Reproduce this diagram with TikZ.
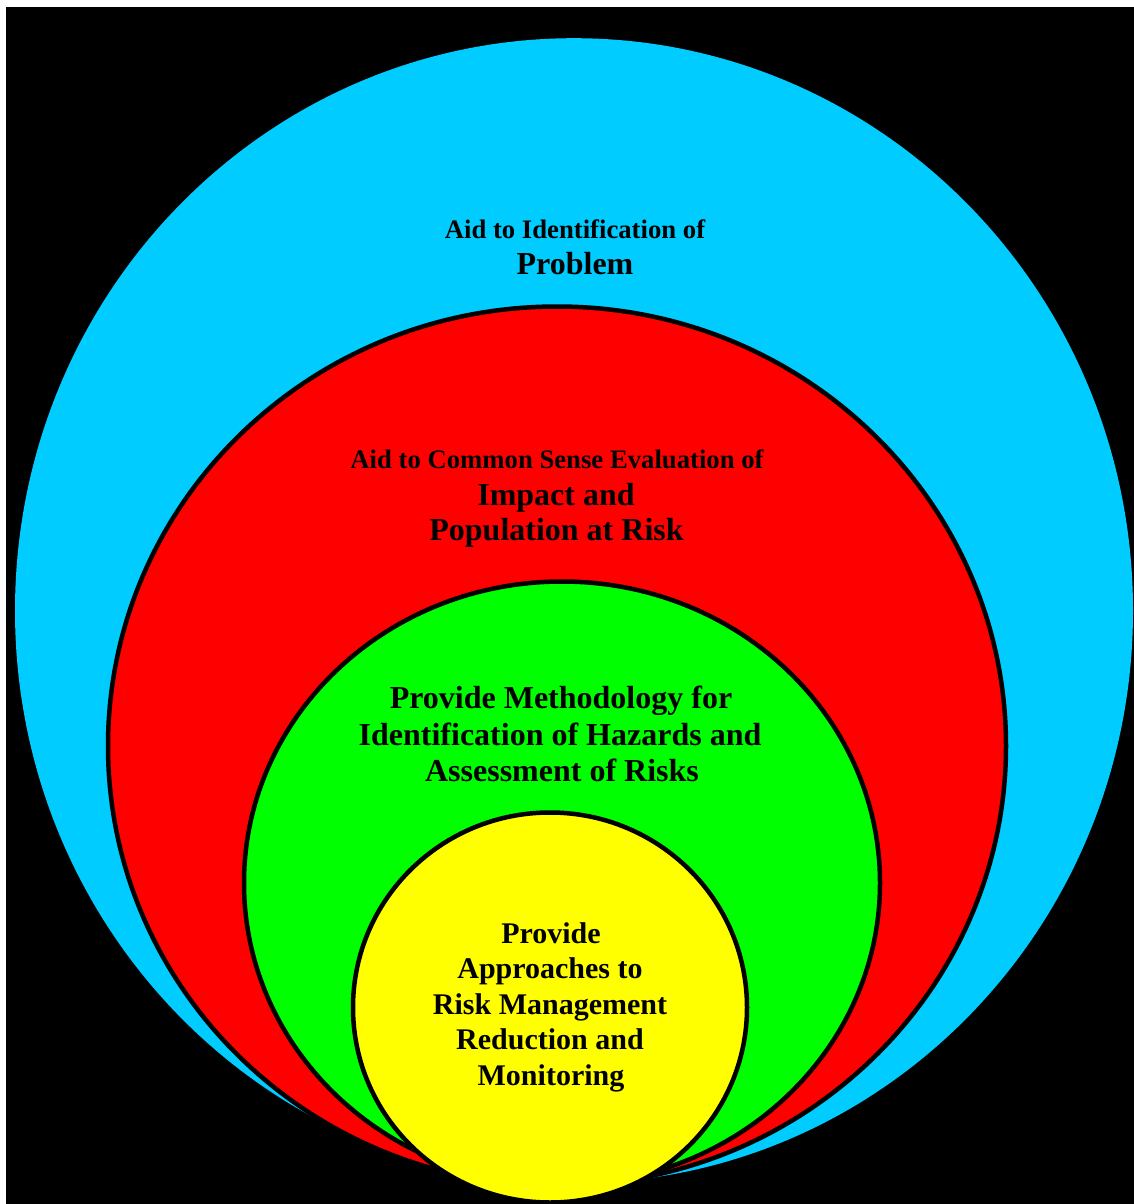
\documentclass[tikz,border=0pt]{standalone}
\usepackage{fontspec}
\setmainfont{Liberation Serif}
\usetikzlibrary{shapes.geometric}
\definecolor{skyfill}{RGB}{0,204,255}
\definecolor{redfill}{RGB}{255,0,0}
\definecolor{greenfill}{RGB}{0,255,0}
\definecolor{yellowfill}{RGB}{255,255,0}
\begin{document}
\begin{tikzpicture}[x=1pt,y=-1pt,
  zone/.style={ellipse, inner sep=0pt, outer sep=0pt},
  ringed/.style={zone, draw=black, line width=4.5pt},
  small/.style={font=\bfseries\fontsize{26.7}{36}\selectfont},
  big/.style={font=\bfseries\fontsize{32}{36}\selectfont},
  label/.style={anchor=base, inner sep=0pt, text=black}]
% page: white edge at top and left, black field
\fill[white] (0,0) rectangle (1134,1204);
\fill[black] (6,7) rectangle (1134,1204);
\useasboundingbox (0,0) rectangle (1134,1204);

% nested zones, each drawn over the previous one
\node[zone, fill=skyfill, minimum width=1118pt, minimum height=1145pt] (outer) at (574,610.7) {};
\node[ringed, fill=redfill, minimum width=898pt, minimum height=879pt] (second) at (557,746) {};
\node[ringed, fill=greenfill, minimum width=636pt, minimum height=603pt] (third) at (562,883) {};
\node[ringed, fill=yellowfill, minimum width=394pt, minimum height=390pt] (inner) at (550,1007.5) {};

% texts
\node[label, small] (outerA) at (575,238.3) {Aid to Identification of};
\node[label, big] (outerB) at (575,274) {Problem};

\node[label, small] (secondA) at (557,468.3) {Aid to Common Sense Evaluation of};
\node[label, big] (secondB) at (556,505) {Impact and};
\node[label, big] (secondC) at (556.5,540.5) {Population at Risk};

\node[label, big] (thirdA) at (561,708.3) {Provide Methodology for};
\node[label, big] (thirdB) at (560,745.5) {Identification of Hazards and};
\node[label, big] (thirdC) at (562,781.7) {Assessment of Risks};

\begin{scope}[every node/.style={label, font=\bfseries\fontsize{30}{36}\selectfont}]
\node (innerA) at (551,943.3) {Provide};
\node (innerB) at (550,978.6) {Approaches to};
\node (innerC) at (550,1014.2) {Risk Management};
\node (innerD) at (550,1049.6) {Reduction and};
\node (innerE) at (551,1085) {Monitoring};
\end{scope}
\end{tikzpicture}
\end{document}
